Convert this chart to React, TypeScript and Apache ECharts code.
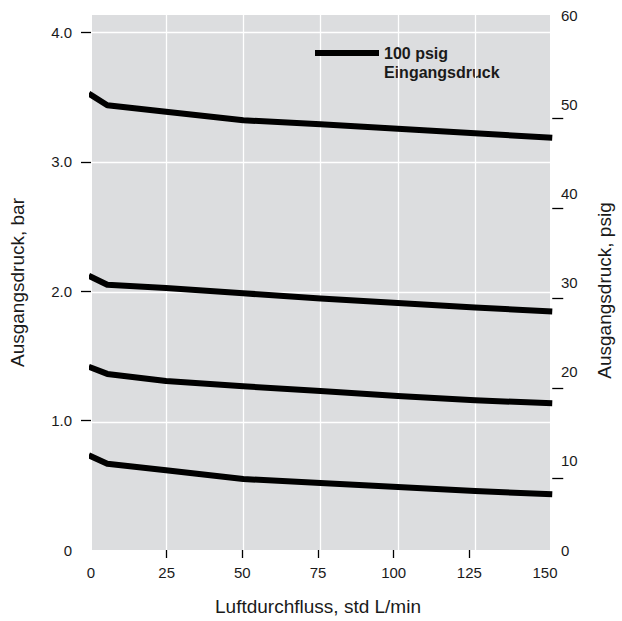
import React, { useEffect, useRef } from "react";
import * as echarts from "echarts";

// ---- data ----
const flow = [0, 6, 25, 50, 75, 100, 125, 150]; // std L/min
const setPoint1 = [3.53, 3.44, 3.39, 3.325, 3.295, 3.26, 3.225, 3.19]; // bar
const setPoint2 = [2.13, 2.06, 2.035, 1.995, 1.955, 1.92, 1.885, 1.855];
const setPoint3 = [1.43, 1.375, 1.32, 1.28, 1.243, 1.205, 1.172, 1.15];
const setPoint4 = [0.75, 0.685, 0.635, 0.567, 0.537, 0.505, 0.475, 0.45];
const curves = [setPoint1, setPoint2, setPoint3, setPoint4];

const xTickLabels = [0, 25, 50, 75, 100, 125, 150];
const xTicks = [25, 50, 75, 100, 125];
const barLabels = [0, 1, 2, 3, 4];
const barTicks = [1, 2, 3, 4];
const psigLabels = [0, 10, 20, 30, 40, 50, 60];
const psigTicks = [10, 20, 30, 40, 50];
const seriesName = "100 psig";
const legendLine2 = "Eingangsdruck";

// ---- layout ----
const W = 622;
const H = 621;
const frame = { left: 88.75, right: 552.25, top: 15, bottom: 552.8 };
const gray = { left: 92, right: 550, top: 15, bottom: 550 };
const barMax = 4.134;
const xMax = 150;
const pxPerFlow = (frame.right - frame.left) / xMax;
const pxPerBar = (frame.bottom - frame.top) / barMax;
// right axis: labels 0..60 span the frame; ticks are drawn slightly lower
const psigTickZeroPx = 567.6;
const psigTickPxPer = 8.985;

const FONT = "'Liberation Sans', Arial, Helvetica, sans-serif";
const TXT = "#1a1a1a";
const GRAY = "#dcdddf";

export default function App() {
  const ref = useRef<HTMLDivElement>(null);
  useEffect(() => {
    if (!ref.current) return;
    const chart = echarts.init(ref.current, undefined, { renderer: "svg" });

    const grayXMin = (gray.left - frame.left) / pxPerFlow;
    const grayXMax = xMax - (frame.right - gray.right) / pxPerFlow;
    const grayYMin = (frame.bottom - gray.bottom) / pxPerBar;
    const grayYMax = barMax - (gray.top - frame.top) / pxPerBar;

    const tMin = psigTicks[0];
    const tMax = psigTicks[psigTicks.length - 1];
    const tickGridTop = psigTickZeroPx - tMax * psigTickPxPer;
    const tickGridHeight = (tMax - tMin) * psigTickPxPer;

    const gridLines = [
      ...xTicks.map((v) => ({ xAxis: v })),
      ...barTicks.map((v) => ({ yAxis: v })),
    ];

    const series: any[] = curves.map((c, i) => ({
      type: "line",
      name: seriesName,
      xAxisIndex: 0,
      yAxisIndex: 0,
      data: flow.map((f, j) => [f, c[j]]),
      symbol: "none",
      showSymbol: false,
      clip: true,
      z: 3,
      lineStyle: { color: "#000", width: 6, join: "round" },
      itemStyle: { color: "#000" },
      markLine:
        i === 0
          ? {
              silent: true,
              symbol: "none",
              z: 1,
              label: { show: false },
              lineStyle: { color: "#ffffff", width: 1.3, type: "solid" },
              emphasis: { disabled: true },
              data: gridLines,
            }
          : undefined,
    }));

    const tickStyle = { color: "#000", width: 1.3 };

    const option: any = {
      animation: false,
      textStyle: { fontFamily: FONT, color: TXT },
      legend: {
        data: [{ name: seriesName, icon: "rect" }],
        left: 315,
        top: 44,
        padding: 0,
        itemWidth: 64,
        itemHeight: 6,
        selectedMode: false,
        itemStyle: { color: "#000" },
        textStyle: { fontFamily: FONT, fontSize: 16, fontWeight: "bold", color: TXT, lineHeight: 18 },
      },
      graphic: [
        {
          type: "text",
          left: 384,
          top: 64,
          style: { text: legendLine2, font: `bold 16px ${FONT}`, fill: TXT },
        },
      ],
      grid: [
        {
          left: gray.left,
          top: gray.top,
          width: gray.right - gray.left,
          height: gray.bottom - gray.top,
          show: true,
          backgroundColor: GRAY,
          borderWidth: 0,
        },
        {
          left: frame.left,
          top: frame.top,
          width: frame.right - frame.left,
          height: frame.bottom - frame.top,
          show: false,
        },
        {
          left: frame.left,
          top: tickGridTop,
          width: frame.right - frame.left,
          height: tickGridHeight,
          show: false,
        },
      ],
      xAxis: [
        {
          gridIndex: 0,
          type: "value",
          min: grayXMin,
          max: grayXMax,
          show: false,
          splitLine: { show: false },
        },
        {
          gridIndex: 1,
          type: "value",
          position: "bottom",
          min: 0,
          max: xMax,
          name: "Luftdurchfluss, std L/min",
          nameLocation: "middle",
          nameGap: 47,
          nameTextStyle: { fontFamily: FONT, fontSize: 19, color: TXT },
          axisLine: { show: false, onZero: false },
          splitLine: { show: false },
          axisTick: { show: true, inside: false, length: 8, customValues: xTicks, lineStyle: tickStyle },
          axisLabel: {
            customValues: xTickLabels,
            margin: 15,
            fontSize: 15,
            color: TXT,
            fontFamily: FONT,
            showMinLabel: true,
            showMaxLabel: true,
          },
        },
        {
          gridIndex: 2,
          type: "value",
          min: 0,
          max: xMax,
          show: false,
          splitLine: { show: false },
        },
      ],
      yAxis: [
        {
          gridIndex: 0,
          type: "value",
          min: grayYMin,
          max: grayYMax,
          show: false,
          splitLine: { show: false },
        },
        {
          gridIndex: 1,
          type: "value",
          position: "left",
          min: 0,
          max: barMax,
          name: "Ausgangsdruck, bar",
          nameLocation: "middle",
          nameGap: 64,
          nameTextStyle: { fontFamily: FONT, fontSize: 19, color: TXT },
          axisLine: { show: false, onZero: false },
          splitLine: { show: false },
          axisTick: { show: true, inside: false, length: 10, customValues: barTicks, lineStyle: tickStyle },
          axisLabel: {
            customValues: barLabels,
            margin: 19,
            fontSize: 15,
            color: TXT,
            fontFamily: FONT,
            formatter: (v: number) => (v === 0 ? "0" : v.toFixed(1)),
          },
        },
        {
          gridIndex: 1,
          type: "value",
          position: "right",
          min: 0,
          max: 60,
          name: "Ausgangsdruck, psig",
          nameLocation: "middle",
          nameGap: 50,
          nameTextStyle: { fontFamily: FONT, fontSize: 19, color: TXT, padding: [0, 16, 0, 0] },
          axisLine: { show: false, onZero: false },
          splitLine: { show: false },
          axisTick: { show: false },
          axisLabel: {
            customValues: psigLabels,
            margin: 16,
            fontSize: 15,
            color: TXT,
            fontFamily: FONT,
            showMinLabel: true,
            showMaxLabel: true,
          },
        },
        {
          gridIndex: 2,
          type: "value",
          position: "right",
          min: tMin,
          max: tMax,
          axisLine: { show: false, onZero: false },
          splitLine: { show: false },
          axisLabel: { show: false },
          axisTick: { show: true, inside: false, length: 11, customValues: psigTicks, lineStyle: tickStyle },
        },
      ],
      series,
    };

    chart.setOption(option);
    return () => chart.dispose();
  }, []);

  return <div ref={ref} style={{ width: W, height: H, position: "absolute", left: 0, top: 0 }} />;
}
